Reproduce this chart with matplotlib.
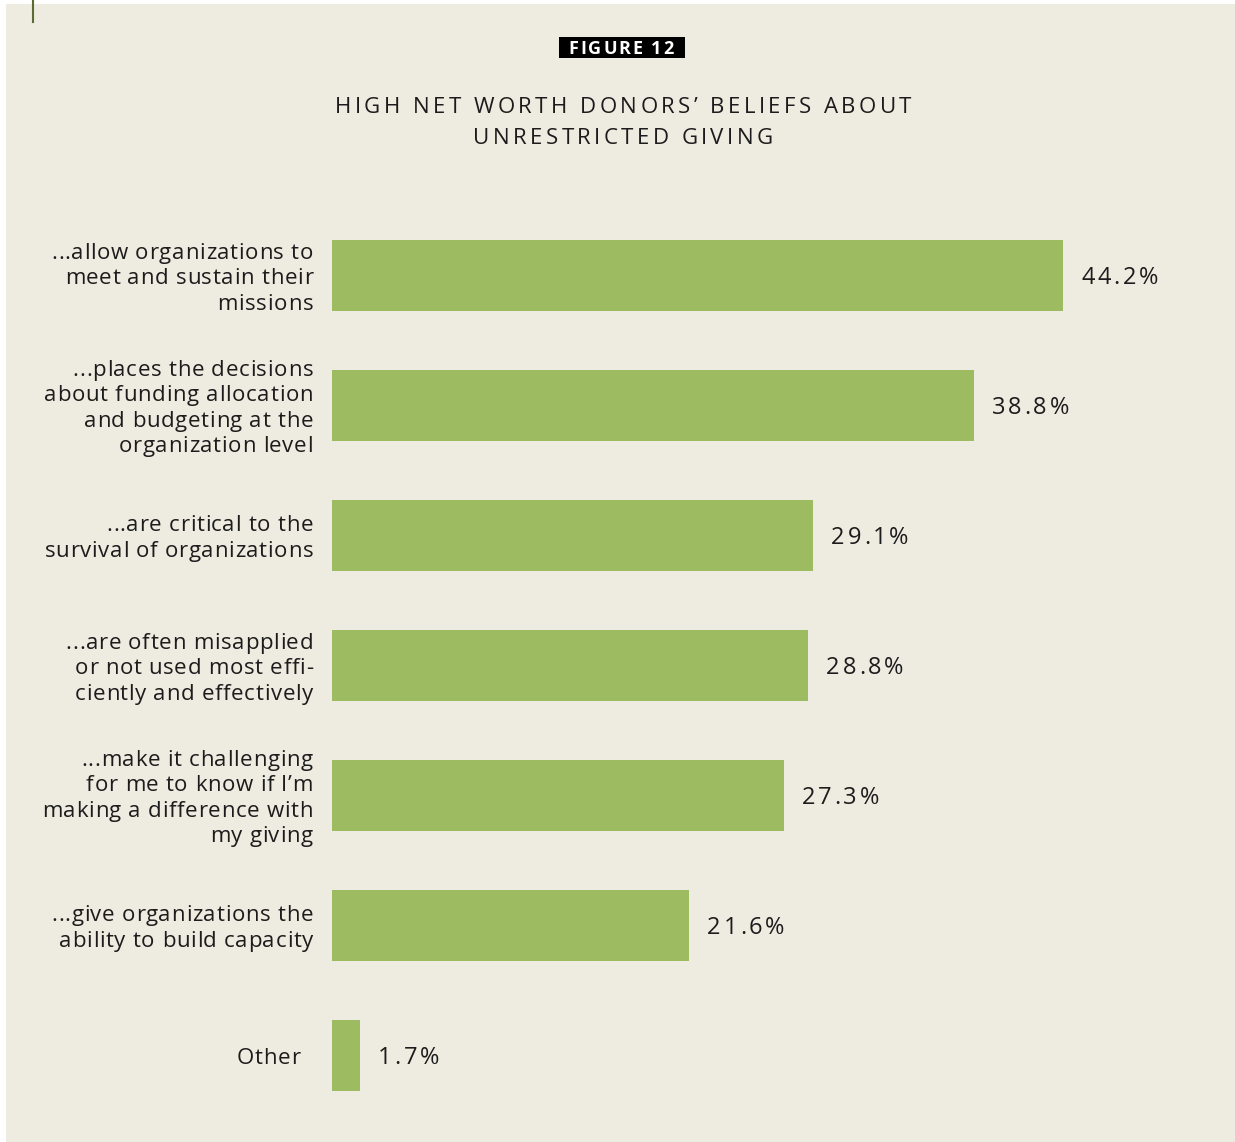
import matplotlib
matplotlib.use("Agg")
import matplotlib.pyplot as plt
from matplotlib.patches import Rectangle
from matplotlib.lines import Line2D
from matplotlib.transforms import Affine2D
from matplotlib.font_manager import findfont, FontProperties
from matplotlib.ft2font import FT2Font
try:
    from matplotlib.ft2font import Kerning, LoadFlags
    KERN, NOHINT = Kerning.DEFAULT, LoadFlags.NO_HINTING
except ImportError:
    from matplotlib.ft2font import KERNING_DEFAULT as KERN, LOAD_NO_HINTING as NOHINT

plt.rcParams['font.family'] = ['Open Sans', 'DejaVu Sans']

labels = [
    "...allow organizations to\nmeet and sustain their\nmissions",
    "...places the decisions\nabout funding allocation\nand budgeting at the\norganization level",
    "...are critical to the\nsurvival of organizations",
    "...are often misapplied\nor not used most effi-\nciently and effectively",
    "...make it challenging\nfor me to know if I\u2019m\nmaking a difference with\nmy giving",
    "...give organizations the\nability to build capacity",
    "Other",
]
values = [44.2, 38.8, 29.1, 28.8, 27.3, 21.6, 1.7]
value_labels = ["44.2%", "38.8%", "29.1%", "28.8%", "27.3%", "21.6%", "1.7%"]
title = "HIGH NET WORTH DONORS\u2019 BELIEFS ABOUT\nUNRESTRICTED GIVING"
fig_tag = "FIGURE 12"

W, H = 1235, 1142
bg = "#eeebe0"
green = "#9dbb61"
ink = "#1c1c1c"

fig = plt.figure(figsize=(W / 100, H / 100), dpi=100)
fig.patch.set_facecolor("white")
# pixel coords measured from the top-left corner
pix = Affine2D().scale(1, -1).translate(0, H)

fig.add_artist(Rectangle((6, 4), W, H, transform=pix, facecolor=bg, edgecolor="none", zorder=0))
fig.add_artist(Line2D([33, 33], [0, 22], transform=pix, color="#5b6b33", lw=1.5))

_fonts = {}


def glyph_run(text, size, track, weight):
    key = (size, weight)
    if key not in _fonts:
        f = FT2Font(findfont(FontProperties(family="Open Sans", weight=weight)))
        f.set_size(size, 100)
        _fonts[key] = f
    font = _fonts[key]
    xs, pen, prev = [], 0.0, None
    for c in text:
        idx = font.get_char_index(ord(c))
        if prev is not None:
            pen += font.get_kerning(prev, idx, KERN) / 64 + track
        g = font.load_char(ord(c), flags=NOHINT)
        xs.append(pen)
        pen += g.linearHoriAdvance / 65536
        prev = idx
    return xs, pen


def tracked(x, y, text, size, track, ha="left", color=ink, weight="normal"):
    # letter-spaced text, one glyph at a time; returns (left, right) in px
    xs, w = glyph_run(text, size, track, weight)
    start = {"left": x, "right": x - w, "center": x - w / 2}[ha]
    for c, dx in zip(text, xs):
        if c != " ":
            fig.text(start + dx, y, c, transform=pix, fontsize=size, ha="left",
                     va="baseline", color=color, fontweight=weight, zorder=5)
    return start, start + w


# bars
top, bot = 210.5, 1120.5
ax = fig.add_axes([332 / W, 1 - bot / H, 50 * 16.54 / W, (bot - top) / H])
ax.set_facecolor("none")
ypos = list(range(len(values)))
ax.barh(ypos, values, height=0.54, color=green)
ax.set_xlim(0, 50)
ax.set_ylim(len(values) - 0.5, -0.5)
ax.axis("off")


def to_pix(xv, yv):
    dx, dy = ax.transData.transform((xv, yv))
    return dx, H - dy


lead = 25.5
for i, (v, t, lab) in enumerate(zip(values, value_labels, labels)):
    bx, cy = to_pix(v, i)
    tracked(bx + 18, cy + 8, t, 17, 2.8)
    lx, _ = to_pix(0, i)
    lines = lab.split("\n")
    n = len(lines)
    rx = lx - (32 if lab == "Other" else 19)
    for k, line in enumerate(lines):
        tracked(rx, cy + 8.5 + (k - (n - 1) / 2) * lead, line, 16, 0.7, ha="right")

# title
for k, line in enumerate(title.split("\n")):
    tracked(623, 113.3 + 31 * k, line, 16, 3.4, ha="center")

# figure tag
tracked(621, 54, fig_tag, 13, 2.0, ha="center", color="white", weight="bold")
fig.add_artist(Rectangle((559, 37), 126, 21, transform=pix, facecolor="black",
                         edgecolor="none", zorder=4))

fig.savefig("out.png", dpi=100, facecolor=fig.get_facecolor())
